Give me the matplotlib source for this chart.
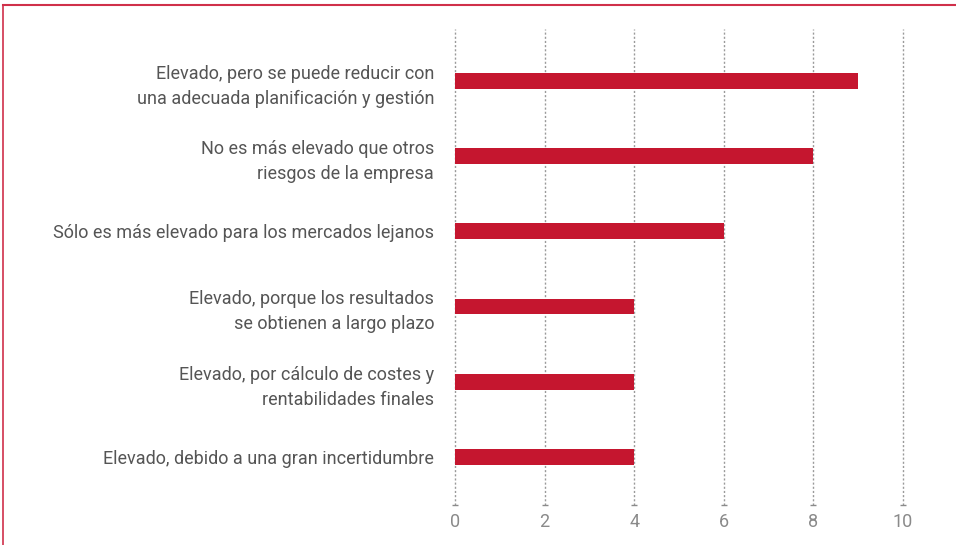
import matplotlib

matplotlib.use("Agg")
import matplotlib.pyplot as plt
from matplotlib.lines import Line2D
import matplotlib.transforms as mtransforms

categories = [
    "Elevado, pero se puede reducir con\nuna adecuada planificación y gestión",
    "No es más elevado que otros\nriesgos de la empresa",
    "Sólo es más elevado para los mercados lejanos",
    "Elevado, porque los resultados\nse obtienen a largo plazo",
    "Elevado, por cálculo de costes y\nrentabilidades finales",
    "Elevado, debido a una gran incertidumbre",
]
values = [9, 8, 6, 4, 4, 4]
xticks = [0, 2, 4, 6, 8, 10]

plt.rcParams["font.family"] = ["Roboto", "DejaVu Sans"]

fig = plt.figure(figsize=(9.56, 5.45), dpi=100)
ax = fig.add_axes([455 / 956, 1 - 505 / 545, (903 - 455) / 956, (505 - 29) / 545])

ypos = list(range(len(categories)))
ax.barh(ypos, values, height=0.21, color="#C5162F", zorder=3)

ax.set_xlim(0, 10)
ax.set_ylim(len(categories) - 0.36, -0.69)
ax.set_xticks(xticks)
ax.set_xticklabels([str(t) for t in xticks], color="#8a8a8a", fontsize=13)
ax.set_yticks(ypos)
ax.set_yticklabels(categories, color="#555555", fontsize=13, linespacing=1.5)
ax.tick_params(axis="y", length=0, pad=15)
ax.tick_params(axis="x", length=0, pad=6)

for t in xticks:
    ax.axvline(t, color="#9a9a9a", lw=1, ls=(0, (1.5, 1.5)), zorder=1,
               clip_on=False)
# little feet at the bottom of each gridline
trans = mtransforms.blended_transform_factory(ax.transData, ax.transAxes)
ax.plot(xticks, [0] * len(xticks), ls="none", marker="_", ms=5, mew=1,
        color="#8a8a8a", transform=trans, clip_on=False, zorder=2)

for s in ax.spines.values():
    s.set_visible(False)

# red frame around the panel
fig.add_artist(Line2D([3 / 956, 1], [1 - 4.5 / 545] * 2, color="#D0304A", lw=1.5))
fig.add_artist(Line2D([3 / 956] * 2, [0, 1 - 4.5 / 545], color="#D0304A", lw=1.2))

fig.savefig("out.png", dpi=100)
